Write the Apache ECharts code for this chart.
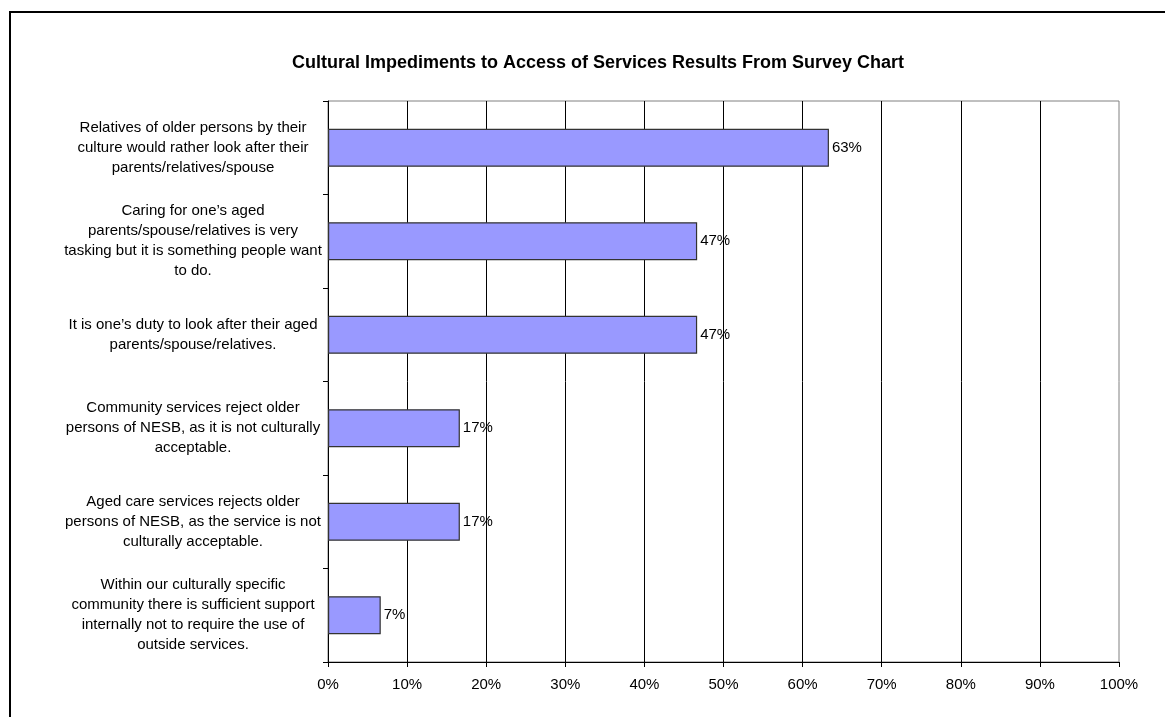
<!DOCTYPE html>
<html>
<head>
<meta charset="utf-8">
<script src="https://cdn.jsdelivr.net/npm/echarts@6/dist/echarts.min.js"></script>
<style>
html,body{margin:0;padding:0;background:#fff;overflow:hidden;}
#frame{position:absolute;left:9px;top:11px;width:1300px;height:900px;border:2px solid #000;box-sizing:border-box;pointer-events:none;}
#chart{position:absolute;left:0;top:0;width:1165px;height:717px;}
</style>
</head>
<body>
<div id="chart"></div>
<div id="frame"></div>
<script>
const titleText = 'Cultural Impediments to Access of Services Results From Survey Chart';
const categories = [
  'Relatives of older persons by their\nculture would rather look after their\nparents/relatives/spouse',
  'Caring for one\u2019s aged\nparents/spouse/relatives is very\ntasking but it is something people want\nto do.',
  'It is one\u2019s duty to look after their aged\nparents/spouse/relatives.',
  'Community services reject older\npersons of NESB, as it is not culturally\nacceptable.',
  'Aged care services rejects older\npersons of NESB, as the service is not\nculturally acceptable.',
  'Within our culturally specific\ncommunity there is sufficient support\ninternally not to require the use of\noutside services.'
];
const values = [63.33, 46.67, 46.67, 16.67, 16.67, 6.67];
const xTicks = [0, 10, 20, 30, 40, 50, 60, 70, 80, 90, 100];

const FONT = 'Liberation Sans, Arial, sans-serif';
const chart = echarts.init(document.getElementById('chart'));
chart.setOption({
  animation: false,
  backgroundColor: '#fff',
  textStyle: { fontFamily: FONT },
  title: {
    text: titleText,
    left: 593, top: 49, textAlign: 'center',
    textStyle: { fontSize: 18, fontWeight: 'bold', color: '#000', fontFamily: FONT }
  },
  grid: {
    left: 328, top: 101, width: 791, height: 561,
    show: true, borderColor: '#808080', borderWidth: 1, backgroundColor: 'transparent'
  },
  xAxis: {
    type: 'value', min: 0, max: 100, interval: 10,
    axisLine: { show: true, lineStyle: { color: '#000', width: 1 } },
    axisTick: { show: true, length: 5, lineStyle: { color: '#000' } },
    axisLabel: { color: '#000', fontSize: 15, margin: 15, formatter: v => xTicks.includes(v) ? v + '%' : '' },
    splitLine: { show: true, showMinLine: false, showMaxLine: false, lineStyle: { color: '#000', width: 1 } }
  },
  yAxis: {
    type: 'category', data: categories, inverse: true,
    axisLine: { show: true, lineStyle: { color: '#000', width: 1 } },
    axisTick: { show: true, length: 5, lineStyle: { color: '#000' } },
    axisLabel: { color: '#000', fontSize: 15, lineHeight: 20, align: 'center', margin: 135, interval: 0 },
    splitLine: { show: false }
  },
  series: [{
    type: 'bar', data: values, barWidth: 38,
    itemStyle: { color: '#9999FF', borderColor: '#333333', borderWidth: 1.2 },
    label: { show: true, position: 'right', distance: 3, color: '#000', fontSize: 15,
      formatter: p => Math.round(p.value) + '%' }
  }]
});
</script>
</body>
</html>
